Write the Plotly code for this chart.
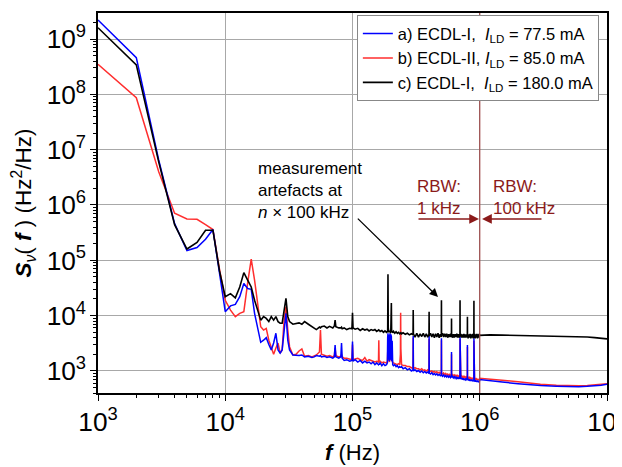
import numpy as np
import plotly.graph_objects as go

# frequency grid in kHz (1 kHz spacing region picked at readable points, 100 kHz above 1 MHz)
f_low = list(range(1, 33))
a_low = [2.2e9, 4.6e8, 6.5e6, 4.6e5, 1.5e5, 1.7e5, 2.4e5, 3.6e5, 6.0e4, 1.18e4,
         1.5e4, 1.6e4, 2.2e4, 3.8e4, 3.1e4, 3.0e4, 1.1e4, 5.5e3, 3.3e3, 3.6e3,
         4.0e3, 3.0e3, 2.4e3, 3.2e3, 4.8e3, 2.4e3, 2.1e3, 2.4e3, 6.3e3, 1.1e4,
         3.6e3, 2.4e3]
b_low = [3.5e8, 8.7e7, 4.0e6, 7.1e5, 5.6e5, 5.5e5, 4.4e5, 3.6e5, 7.0e4, 1.9e4,
         1.26e4, 9.6e3, 1.1e4, 1.18e4, 3.9e4, 1.05e5, 4.4e4, 1.66e4, 6.3e3, 5.5e3,
         5.9e3, 3.6e3, 2.75e3, 2.0e3, 2.6e3, 3.2e3, 2.1e3, 2.4e3, 8.3e3, 1.45e4,
         5.5e3, 2.75e3]
c_low = [1.6e9, 3.4e8, 6.0e6, 4.4e5, 1.6e5, 2.1e5, 3.5e5, 3.5e5, 6.5e4, 2.2e4,
         2.5e4, 2.1e4, 3.3e4, 6.0e4, 4.4e4, 3.3e4, 1.9e4, 1.2e4, 8.3e3, 9.6e3,
         8.9e3, 7.8e3, 9.6e3, 8.3e3, 9.6e3, 7.8e3, 7.3e3, 7.3e3, 1.26e4, 2.05e4,
         9.6e3, 7.8e3]

f_mid = [34, 36, 38, 40, 42, 45, 48, 50, 52, 55, 56, 57, 60, 63, 66, 70, 72, 73, 74, 78,
         81, 82, 83, 86, 90, 95, 99, 100, 101]
a_mid = [1950, 1900, 1900, 1950, 1800, 1850, 1750, 1800, 1900, 1850, 1900, 1800, 1850, 1750,
         1800, 1700, 1800, 2950, 1800, 1700, 1800, 3200, 1700, 1550, 1600, 1500, 1550, 3400, 1500]
b_mid = [1950, 2000, 2300, 2500, 1850, 1900, 1800, 1850, 1950, 2200, 5500, 2000, 1900, 1850,
         1900, 1800, 1900, 2600, 1900, 1800, 1850, 2000, 1800, 1700, 1700, 1650, 1600, 3000, 1600]
c_mid = [7000, 7300, 7400, 7000, 7800, 7000, 6400, 6000, 5600, 6200, 6000, 6300, 6500, 6000,
         6400, 6000, 6500, 8300, 6300, 6000, 6000, 6200, 5800, 6000, 5600, 5900, 5800, 11300, 6000]

f_hi = [105, 110, 115, 120, 125, 130, 135, 140, 145, 150,
        155, 160, 161, 162, 165, 170, 175, 180, 185, 188,
        189, 190, 191, 193, 195, 197, 199, 200, 202, 203,
        205, 207, 210, 215, 220, 225, 230, 235, 238, 239,
        240, 243, 250, 260, 270, 280, 290, 299]
a_hi = [1600, 1450, 1550, 1400, 1500, 1400, 1450, 1350, 1450, 1300,
        1400, 1300, 1350, 1300, 1400, 1250, 1350, 1250, 1300, 1400,
        4000, 4800, 1600, 4500, 1500, 4800, 1600, 4600, 4200, 1500,
        3500, 1300, 1250, 1300, 1200, 1250, 1150, 1200, 1150, 1200,
        1150, 1200, 1100, 1150, 1050, 1100, 1000, 1050]
b_hi = [1650, 1700, 1600, 1550, 1750, 1500, 1600, 1550, 1500, 1450,
        1500, 1450, 3600, 1450, 1500, 1400, 1450, 1400, 1400, 1500,
        2000, 3000, 1500, 1800, 1450, 2500, 1600, 1800, 1600, 1500,
        1600, 1400, 1400, 1350, 1350, 1300, 1350, 1300, 2000, 11300,
        2500, 1300, 1250, 1250, 1200, 1200, 1150, 1100]
c_hi = [5700, 5900, 5400, 5800, 5500, 5700, 5300, 5600, 5400, 5600,
        5200, 5500, 5300, 5500, 5200, 5400, 5000, 5300, 5000, 5200,
        5000, 56000, 6000, 5000, 5300, 5100, 5000, 5200, 17000, 5000,
        5300, 4900, 5200, 4800, 5100, 4800, 5000, 4700, 4900, 4800,
        4900, 4700, 4900, 4600, 4800, 4500, 4700, 4500]

f_art = [300, 301, 310, 320, 330, 340, 350, 360, 370, 380, 390, 399,
         400, 401, 410, 420, 430, 440, 450, 460, 470, 480, 490, 499]
a_art = [4300, 1000, 1050, 980, 1020, 950, 1000, 930, 980, 920, 960, 900,
         4300, 920, 880, 930, 860, 900, 850, 890, 830, 870, 820, 850]
b_art = [4000, 1100, 1150, 1100, 1100, 1050, 1100, 1020, 1050, 1000, 1050, 1000,
         3800, 1000, 980, 1000, 950, 980, 940, 970, 920, 950, 900, 920]
c_art = [12600, 4700, 4100, 4800, 4100, 4700, 4200, 4800, 4100, 4700, 4100, 4600,
         11800, 4300, 4800, 4100, 4700, 4000, 4700, 4100, 4800, 4000, 4600, 4100]

f_top = [500, 501, 510, 520, 530, 540, 550, 560, 570, 580, 590, 599,
         600, 601, 610, 620, 630, 640, 650, 660, 670, 680, 690, 699,
         700, 701, 710, 720, 730, 740, 750, 760, 770, 780, 790, 799,
         800, 801, 810, 820, 830, 840, 850, 860, 870, 880, 890, 899,
         900, 901, 910, 920, 930, 940, 950, 960, 970, 980, 990, 1000]
a_top = [3900, 840, 800, 850, 790, 830, 780, 820, 770, 810, 760, 800,
         2200, 770, 800, 750, 790, 740, 780, 730, 770, 720, 760, 720,
         4200, 740, 710, 750, 700, 740, 690, 730, 690, 720, 680, 720,
         2950, 690, 720, 670, 710, 660, 700, 660, 700, 650, 690, 650,
         3900, 680, 640, 680, 640, 670, 630, 670, 630, 660, 620, 700]
b_top = [3600, 910, 880, 920, 860, 900, 850, 880, 840, 870, 830, 860,
         2000, 840, 860, 820, 850, 810, 840, 800, 830, 790, 820, 790,
         3800, 800, 780, 810, 770, 800, 760, 790, 750, 780, 740, 770,
         2700, 750, 770, 730, 760, 720, 750, 720, 750, 710, 740, 710,
         3500, 730, 700, 730, 700, 720, 690, 720, 680, 710, 680, 740]
c_top = [19000, 4400, 4800, 4100, 4700, 4100, 4700, 4000, 4600, 4100, 4700, 4100,
         8900, 4600, 4000, 4600, 4000, 4600, 4100, 4700, 4000, 4600, 4000, 4600,
         19000, 4200, 4700, 4000, 4600, 4000, 4700, 4000, 4600, 4000, 4600, 4100,
         9600, 4500, 3900, 4600, 4000, 4700, 3900, 4600, 4000, 4700, 3900, 4600,
         18600, 4100, 4700, 3900, 4600, 4000, 4700, 3900, 4600, 4000, 4700, 4400]

# RBW 100 kHz part
f_wide = [1100, 1200, 1500, 2000, 2500, 3000, 4000, 5000, 6000, 7000, 8000, 9000, 10000]
a_wide = [680, 670, 630, 590, 560, 545, 530, 520, 520, 530, 540, 555, 575]
b_wide = [730, 720, 680, 640, 600, 575, 550, 540, 540, 545, 555, 565, 585]
c_wide = [4500, 4500, 4450, 4400, 4350, 4350, 4300, 4250, 4200, 4100, 4000, 3900, 3800]

freq_khz = f_low + f_mid + f_hi + f_art + f_top + f_wide
sv_a = a_low + a_mid + a_hi + a_art + a_top + a_wide
sv_b = b_low + b_mid + b_hi + b_art + b_top + b_wide
sv_c = c_low + c_mid + c_hi + c_art + c_top + c_wide
assert len(freq_khz) == len(sv_a) == len(sv_b) == len(sv_c)

freq = np.array(freq_khz) * 1e3

names = {
    "a": "a) ECDL-I,&nbsp;&nbsp;<i>I</i><sub>LD</sub> = 77.5 mA",
    "b": "b) ECDL-II, <i>I</i><sub>LD</sub> = 85.0 mA",
    "c": "c) ECDL-I,&nbsp;&nbsp;<i>I</i><sub>LD</sub> = 180.0 mA",
}

FONT = "Liberation Sans, Arial, sans-serif"
DARKRED = "#8b1a1a"

fig = go.Figure()
fig.add_trace(go.Scatter(x=freq, y=sv_b, mode="lines", name=names["b"], legendrank=2,
                         line=dict(color="#ff2e2e", width=1.5)))
fig.add_trace(go.Scatter(x=freq, y=sv_a, mode="lines", name=names["a"], legendrank=1,
                         line=dict(color="#0000ff", width=1.5)))
fig.add_trace(go.Scatter(x=freq, y=sv_c, mode="lines", name=names["c"], legendrank=3,
                         line=dict(color="black", width=1.6)))

fig.add_shape(type="line", x0=1e6, x1=1e6, y0=0, y1=1, xref="x", yref="paper",
              line=dict(color="#a04c4c", width=1.2))

# annotation text
fig.add_annotation(x=4.242, y=6.87, xref="x", yref="y",
                   text="measurement<br>artefacts at<br><i>n</i> × 100 kHz",
                   showarrow=False, xanchor="left", yanchor="top", align="left",
                   font=dict(size=17, color="black", family=FONT))
fig.add_annotation(x=5.672, y=4.337, ax=5.03, ay=5.78, xref="x", yref="y",
                   axref="x", ayref="y", text="", showarrow=True,
                   arrowhead=2, arrowsize=1.3, arrowwidth=1.3, arrowcolor="black")

fig.add_annotation(x=5.49, y=6.55, xref="x", yref="y", text="RBW:<br>1 kHz",
                   showarrow=False, xanchor="left", yanchor="top", align="left",
                   font=dict(size=17, color=DARKRED, family=FONT))
fig.add_annotation(x=6.085, y=6.55, xref="x", yref="y", text="RBW:<br>100 kHz",
                   showarrow=False, xanchor="left", yanchor="top", align="left",
                   font=dict(size=17, color=DARKRED, family=FONT))
fig.add_annotation(x=5.994, y=5.747, ax=5.507, ay=5.747, xref="x", yref="y",
                   axref="x", ayref="y", text="", showarrow=True,
                   arrowhead=2, arrowsize=1.3, arrowwidth=1.5, arrowcolor=DARKRED)
fig.add_annotation(x=6.018, y=5.747, ax=6.497, ay=5.747, xref="x", yref="y",
                   axref="x", ayref="y", text="", showarrow=True,
                   arrowhead=2, arrowsize=1.3, arrowwidth=1.5, arrowcolor=DARKRED)

axis_common = dict(
    type="log", dtick=1, exponentformat="power", showexponent="all",
    showline=True, linecolor="black", linewidth=1.5, mirror=True,
    ticks="outside", ticklen=6, tickwidth=1.2, tickcolor="black",
    showgrid=True, gridcolor="#a8a8a8", gridwidth=1.2, zeroline=False,
    tickfont=dict(size=21, color="black", family=FONT), automargin=False,
    minor=dict(ticks="outside", ticklen=3, tickwidth=1, tickcolor="black",
               dtick="D1", showgrid=False),
)

fig.update_xaxes(**axis_common, range=[3, 7.00001],
                 title=dict(text='<b><i>f</i></b> (Hz)',
                            font=dict(size=22, color="black", family=FONT), standoff=8))
fig.update_yaxes(**axis_common, range=[2.602, 9.47],
                 title=dict(text='<b><i>S</i></b><sub><i>ν</i></sub>( <b><i>f</i></b> ) (Hz<sup>2</sup>/Hz)',
                            font=dict(size=22.5, color="black", family=FONT), standoff=14))

# the page puts the figure 8 px in from the top-left corner, margins allow for that
fig.update_layout(
    width=622, height=467,
    margin=dict(l=90, r=23, t=5, b=82),
    paper_bgcolor="white", plot_bgcolor="white",
    font=dict(family=FONT, color="black"),
    legend=dict(x=0.984, y=0.994, xanchor="right", yanchor="top",
                bgcolor="white", bordercolor="#888888", borderwidth=1,
                font=dict(size=16.5, color="black", family=FONT),
                tracegroupgap=0, itemwidth=30),
)

fig.write_html("out.html")
